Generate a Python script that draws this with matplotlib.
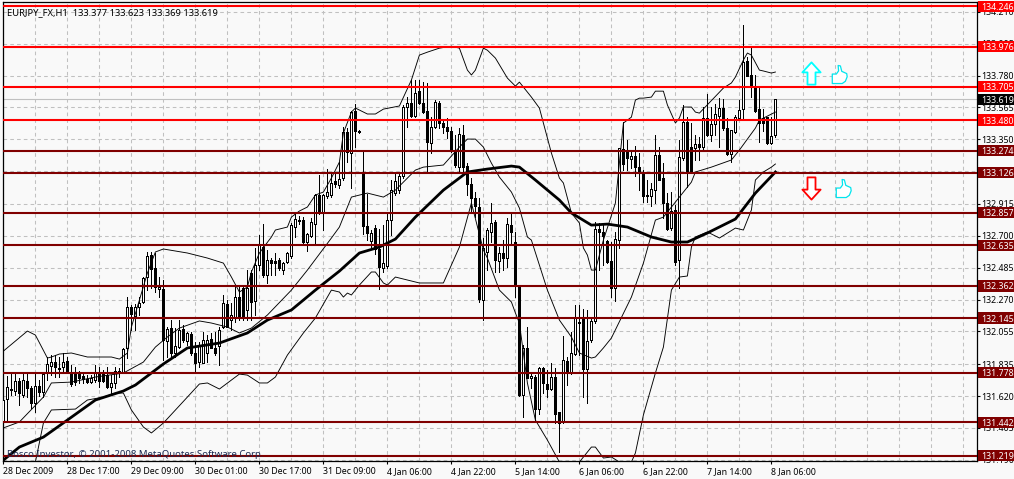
import matplotlib
matplotlib.use("Agg")
import matplotlib.pyplot as plt
import numpy as np
from matplotlib.path import Path
from matplotlib.patches import Rectangle

plt.rcParams['font.family'] = ['Noto Sans', 'DejaVu Sans']

opens = [131.451,131.600,131.667,131.653,131.721,131.627,131.721,131.674,131.573,131.688,
         131.647,131.775,131.822,131.849,131.802,131.815,131.856,131.775,131.775,131.768,
         131.755,131.735,131.714,131.728,131.782,131.775,131.761,131.681,131.708,131.775,
         131.782,131.944,132.220,132.160,132.220,132.254,132.422,132.570,132.483,132.341,
         132.341,131.990,132.078,131.910,131.950,132.072,131.990,132.038,131.910,131.849,
         131.842,131.910,132.004,131.944,131.957,132.085,132.240,132.132,132.146,132.287,
         132.348,132.200,132.449,132.260,132.503,132.624,132.436,132.537,132.530,132.537,
         132.469,132.523,132.564,132.759,132.800,132.806,132.658,132.698,132.779,132.975,
         132.853,132.968,132.975,133.069,133.042,133.090,133.399,133.258,133.541,133.406,
         133.123,132.766,132.665,132.752,132.611,132.483,132.496,132.806,132.988,133.008,
         133.103,133.568,133.595,133.507,133.675,133.595,133.541,133.325,133.433,133.595,
         133.460,133.433,133.406,133.278,133.163,133.379,133.170,133.049,132.955,132.894,
         132.267,132.591,132.726,132.793,132.530,132.584,132.550,132.772,132.658,132.355,
         131.627,131.944,131.741,131.748,131.532,131.808,131.701,131.667,131.748,131.512,
         131.445,131.856,131.775,131.903,132.112,132.146,131.802,131.997,132.126,132.746,
         132.726,132.665,132.530,132.348,132.671,133.285,133.271,133.217,133.238,133.163,
         133.130,132.975,132.968,133.008,133.244,133.089,132.921,132.752,132.874,132.537,
         133.224,133.467,133.298,133.291,133.318,133.298,133.494,133.379,133.453,133.507,
         133.561,133.426,133.251,133.399,133.494,133.555,133.878,133.784,133.703,133.554,
         133.494,133.500,133.325,133.377]
highs = [131.775,131.755,131.775,131.775,131.741,131.775,131.768,131.688,131.768,131.728,
         131.775,131.883,131.896,131.896,131.883,131.910,131.883,131.829,131.815,131.788,
         131.775,131.761,131.761,131.829,131.815,131.795,131.815,131.761,131.815,131.808,
         131.944,132.287,132.233,132.240,132.287,132.422,132.591,132.591,132.584,132.422,
         132.402,132.085,132.132,132.078,132.132,132.099,132.051,132.051,131.984,131.984,
         132.051,132.031,132.045,132.051,132.085,132.301,132.267,132.247,132.368,132.368,
         132.368,132.469,132.469,132.618,132.705,132.779,132.604,132.550,132.584,132.550,
         132.523,132.591,132.786,132.847,132.833,132.826,132.719,132.820,132.982,133.110,
         132.982,133.150,133.123,133.123,133.197,133.433,133.426,133.541,133.588,133.413,
         133.265,132.982,132.739,132.772,132.746,132.772,132.854,133.076,133.130,133.130,
         133.582,133.635,133.750,133.750,133.750,133.736,133.730,133.500,133.615,133.608,
         133.480,133.494,133.433,133.379,133.426,133.446,133.190,133.089,132.995,132.955,
         132.685,132.752,132.921,132.806,132.624,132.671,132.820,132.854,132.726,132.362,
         131.964,132.085,131.782,131.761,131.815,131.815,131.795,131.842,131.808,131.512,
         132.025,131.883,132.051,132.233,132.233,132.207,132.200,132.146,132.793,132.786,
         132.786,132.671,132.658,132.726,133.291,133.467,133.345,133.271,133.305,133.258,
         133.143,133.076,133.056,133.379,133.298,133.190,132.988,132.995,132.908,133.345,
         133.582,133.500,133.460,133.379,133.365,133.568,133.655,133.568,133.588,133.628,
         133.622,133.494,133.413,133.514,133.615,134.120,133.905,133.965,133.784,133.696,
         133.554,133.500,133.500,133.623]
lows = [131.371,131.458,131.627,131.627,131.559,131.613,131.613,131.539,131.512,131.620,
        131.613,131.728,131.761,131.748,131.748,131.782,131.775,131.688,131.694,131.708,
        131.708,131.708,131.708,131.714,131.681,131.714,131.674,131.627,131.674,131.748,
        131.775,131.876,132.065,132.065,132.166,132.247,132.334,132.348,132.321,132.287,
        131.863,131.883,131.883,131.883,131.944,131.984,131.964,131.896,131.782,131.815,
        131.842,131.849,131.944,131.896,131.829,132.078,132.085,132.065,132.119,132.132,
        132.132,132.132,132.132,132.166,132.469,132.422,132.382,132.436,132.436,132.469,
        132.442,132.516,132.550,132.692,132.779,132.651,132.597,132.692,132.651,132.847,
        132.739,132.955,132.961,133.029,133.022,133.076,133.197,133.022,133.298,133.393,
        132.712,132.671,132.624,132.577,132.341,132.456,132.483,132.705,132.975,132.988,
        133.089,133.433,133.500,133.500,133.588,133.527,133.130,133.258,133.426,133.426,
        133.393,133.359,133.265,133.163,133.130,133.130,132.975,132.854,132.826,132.254,
        132.132,132.469,132.658,132.456,132.456,132.469,132.490,132.638,132.287,131.620,
        131.478,131.741,131.674,131.445,131.499,131.640,131.613,131.660,131.438,131.242,
        131.438,131.694,131.768,131.896,131.896,131.613,131.573,131.984,132.112,132.469,
        132.503,132.516,132.287,132.260,132.618,133.143,133.143,133.157,133.103,133.008,
        132.928,132.928,132.901,132.921,133.076,132.820,132.739,132.739,132.503,132.348,
        133.211,133.029,133.123,133.211,133.211,133.285,133.372,133.339,133.379,133.298,
        133.413,133.244,133.197,133.393,133.487,133.480,133.777,133.635,133.534,133.332,
        133.406,133.318,133.318,133.369]
closes = [131.593,131.681,131.660,131.721,131.640,131.728,131.674,131.573,131.688,131.647,
          131.768,131.836,131.849,131.815,131.808,131.849,131.775,131.701,131.714,131.741,
          131.735,131.714,131.741,131.775,131.721,131.721,131.681,131.708,131.788,131.788,
          131.937,132.220,132.173,132.220,132.247,132.415,132.564,132.476,132.355,132.355,
          131.997,132.072,131.910,131.957,132.065,131.997,132.045,131.910,131.842,131.957,
          131.997,131.997,131.944,131.910,132.065,132.247,132.085,132.166,132.287,132.146,
          132.146,132.348,132.254,132.503,132.638,132.436,132.537,132.516,132.516,132.483,
          132.516,132.584,132.772,132.813,132.806,132.658,132.712,132.793,132.975,132.860,
          132.975,132.995,133.056,133.049,133.083,133.399,133.265,133.534,133.406,133.399,
          132.766,132.719,132.719,132.611,132.490,132.516,132.806,133.008,133.069,133.103,
          133.568,133.595,133.507,133.662,133.595,133.534,133.332,133.433,133.601,133.460,
          133.433,133.406,133.278,133.177,133.386,133.163,133.049,132.955,132.901,132.274,
          132.618,132.739,132.786,132.537,132.584,132.550,132.779,132.726,132.362,131.627,
          131.944,131.741,131.755,131.532,131.808,131.708,131.667,131.748,131.499,131.438,
          131.863,131.775,131.910,132.146,132.119,131.802,131.990,132.126,132.746,132.726,
          132.698,132.523,132.348,132.678,133.291,133.184,133.224,133.238,133.163,133.123,
          132.968,132.968,133.015,133.244,133.076,132.921,132.746,132.867,132.523,133.231,
          133.467,133.123,133.123,133.318,133.298,133.494,133.379,133.453,133.521,133.561,
          133.426,133.251,133.413,133.500,133.548,133.871,133.777,133.703,133.541,133.460,
          133.460,133.325,133.372,133.619]

ma_idx = [0,4,10,16,23,30,33,40,46,54,61,66,72,78,84,89,94,98,103,110,116,121,127,129,133,
          139,142,147,151,156,162,167,171,176,183,188,193]
ma_val = [131.188,131.276,131.343,131.458,131.593,131.654,131.694,131.836,131.944,131.977,
          132.045,132.132,132.200,132.334,132.462,132.584,132.624,132.678,132.826,133.008,
          133.130,133.150,133.170,133.163,133.076,132.941,132.854,132.772,132.779,132.759,
          132.692,132.658,132.658,132.719,132.813,132.988,133.130]

upper_idx = [0,6,8,11,12,14,17,21,27,29,31,32,36,38,40,46,51,55,57,59,61,62,64,67,68,71,72,
             74,76,78,80,82,84,85,87,88,91,93,95,99,102,104,106,109,112,114,116,117,118,120,
             121,123,126,128,129,132,134,135,137,139,140,142,144,145,146,147,148,150,153,155,
             157,158,159,160,162,163,165,166,168,169,170,172,173,174,180,182,183,185,186,187,
             189,190,192,193]
upper_val = [131.923,132.058,132.031,131.876,131.883,131.903,131.910,131.883,131.883,131.869,
             131.910,132.085,132.449,132.591,132.611,132.584,132.550,132.516,132.422,132.321,
             132.355,132.456,132.584,132.692,132.739,132.759,132.826,132.867,132.894,132.975,
             132.995,133.089,133.197,133.393,133.534,133.561,133.521,133.521,133.554,133.575,
             133.750,133.918,133.938,133.965,133.978,133.965,133.817,133.784,133.817,133.965,
             133.951,133.898,133.763,133.709,133.736,133.635,133.561,133.460,133.258,133.089,
             133.056,132.854,132.786,132.618,132.570,132.469,132.469,132.671,132.921,133.460,
             133.500,133.615,133.628,133.628,133.635,133.675,133.675,133.582,133.460,133.494,
             133.568,133.568,133.534,133.527,133.696,133.730,133.770,133.885,133.932,133.918,
             133.817,133.811,133.797,133.804]

mid_idx = [0,4,10,12,17,23,30,35,38,41,44,49,52,56,59,62,66,72,76,82,84,87,91,95,98,103,105,
           110,114,116,118,120,122,124,127,129,131,132,136,139,142,144,147,148,150,152,157,
           160,163,165,169,172,173,177,182,184,188,189,193]
mid_val = [131.405,131.445,131.613,131.708,131.714,131.748,131.775,131.849,131.950,132.018,
           132.078,132.126,132.112,132.085,132.045,132.078,132.166,132.334,132.469,132.685,
           132.759,132.961,132.988,132.961,133.008,133.143,133.163,133.177,133.298,133.352,
           133.352,133.298,133.190,133.096,132.995,132.887,132.692,132.671,132.334,132.132,
           132.018,131.910,131.876,131.883,131.944,132.011,132.287,132.516,132.806,132.826,
           132.961,133.062,133.130,133.163,133.211,133.278,133.426,133.480,133.534]

lower_idx = [8,10,12,18,21,25,28,30,32,35,37,40,46,49,51,54,59,61,64,66,68,71,75,78,82,84,85,
             86,87,89,92,93,95,96,98,104,110,114,117,120,121,124,127,128,129,131,133,136,139,
             144,147,148,150,152,154,157,158,160,163,165,167,169,171,172,173,176,179,183,185,
             187,188,190,192,193]
lower_val = [131.175,131.438,131.526,131.532,131.593,131.613,131.640,131.640,131.526,131.411,
             131.371,131.438,131.613,131.701,131.708,131.667,131.768,131.761,131.708,131.708,
             131.748,131.896,132.045,132.146,132.334,132.321,132.287,132.314,132.301,132.368,
             132.456,132.456,132.382,132.368,132.422,132.382,132.382,132.624,132.921,132.604,
             132.550,132.334,132.254,132.180,132.112,131.708,131.458,131.323,131.175,131.175,
             131.276,131.276,131.202,131.209,131.175,131.175,131.236,131.492,131.775,131.950,
             132.334,132.422,132.429,132.624,132.692,132.726,132.685,132.752,132.739,132.874,
             133.076,133.130,133.163,133.184]

red_levels = [134.246, 133.976, 133.705, 133.480]
dark_levels = [133.274, 133.126, 132.857, 132.635, 132.362, 132.145, 131.778, 131.442, 131.219]
last_price = 133.619

y_ticks = [134.210, 133.995, 133.780, 133.565, 133.350, 133.135, 132.915, 132.700,
           132.485, 132.270, 132.055, 131.835, 131.620, 131.405, 131.190]
x_tick_idx = [0, 16, 32, 48, 64, 80, 96, 112, 128, 144, 160, 176, 192]
x_labels = ["28 Dec 2009", "28 Dec 17:00", "29 Dec 09:00", "30 Dec 01:00", "30 Dec 17:00",
            "31 Dec 09:00", "4 Jan 06:00", "4 Jan 22:00", "5 Jan 14:00", "6 Jan 06:00",
            "6 Jan 22:00", "7 Jan 14:00", "8 Jan 06:00"]

BG = "#f9f9f9"
FS = 6.35

fig = plt.figure(figsize=(10.14, 4.79), dpi=100, facecolor=BG)
ax = fig.add_axes([2.5/1014, 18/479, 974/1014, 459/479], facecolor=BG)
ax.set_xlim(-0.225, 243.275)
ax.set_ylim(131.182, 134.276)

# grid
ax.set_xticks(np.arange(8, 244, 8), minor=True)
ax.set_xticks(x_tick_idx)
ax.set_xticklabels(x_labels, fontsize=FS, ha="left")
ax.yaxis.tick_right()
ax.set_yticks(y_ticks)
ax.set_yticklabels(["%.3f" % v for v in y_ticks], fontsize=FS)
ax.tick_params(axis="x", which="major", length=2.5, width=0.8, pad=2)
ax.tick_params(axis="x", which="minor", length=0)
ax.tick_params(axis="y", length=2, width=0.8, pad=1.5)
ax.grid(True, which="both", color="#c0c0c0", linestyle=(0, (3.5, 3)), linewidth=0.75)
ax.set_axisbelow(True)
for s in ax.spines.values():
    s.set_linewidth(0.9)

# candles
o = np.array(opens)
h = np.array(highs)
l = np.array(lows)
c = np.array(closes)
x = np.arange(len(o))
up = c >= o
ax.vlines(x, l, h, color="black", linewidth=0.72, zorder=2, antialiased=False)
ax.bar(x[up], (c - o)[up], bottom=o[up], width=0.5, facecolor="white", edgecolor="black",
       linewidth=0.72, zorder=3, antialiased=False)
ax.bar(x[~up], (o - c)[~up], bottom=c[~up], width=0.5, facecolor="black", edgecolor="black",
       linewidth=0.72, zorder=3, antialiased=False)

# bollinger bands and moving average
ax.plot(upper_idx, upper_val, color="black", linewidth=0.65, zorder=4)
ax.plot(mid_idx, mid_val, color="black", linewidth=0.65, zorder=4)
ax.plot(lower_idx, lower_val, color="black", linewidth=0.65, zorder=4)
ax.plot(ma_idx, ma_val, color="black", linewidth=2.0, zorder=4)

# bid line and levels
ax.axhline(last_price, color="#c0c0c0", linewidth=0.8, zorder=1.5)
for v in red_levels:
    ax.axhline(v, color="#ff0000", linewidth=1.5, zorder=5)
for v in dark_levels:
    ax.axhline(v, color="#800000", linewidth=1.5, zorder=5)


def price_tag(value, bg):
    trans = ax.get_yaxis_transform()
    ax.add_patch(Rectangle((1.0015, value - 0.038), 0.037, 0.076, transform=trans, facecolor=bg,
                           edgecolor="none", clip_on=False, zorder=9))
    ax.text(1.0052, value, "%.3f" % value, transform=trans, va="center_baseline", ha="left",
            fontsize=FS, color="white", clip_on=False, zorder=10)


for v in red_levels:
    price_tag(v, "#ff0000")
for v in dark_levels:
    price_tag(v, "#800000")
price_tag(last_price, "black")

# title and copyright
ax.text(0.0045, 134.205, "EURJPY_FX,H1  133.377 133.623 133.369 133.619", fontsize=6.75,
        color="black", va="center", transform=ax.get_yaxis_transform(), zorder=6)
ax.text(0.0045, 131.226, "Bosco Investor, \u00a9 2001-2008 MetaQuotes Software Corp.", fontsize=6.9,
        color="#1c2a52", va="center", transform=ax.get_yaxis_transform(), zorder=6)

# arrows and thumbs
arrow_up = Path([(0, 1), (0.82, 0.1), (0.36, 0.1), (0.36, -1), (-0.36, -1), (-0.36, 0.1),
                 (-0.82, 0.1), (0, 1)], closed=True)
arrow_down = Path([(0, -1), (0.82, -0.1), (0.36, -0.1), (0.36, 1), (-0.36, 1), (-0.36, -0.1),
                   (-0.82, -0.1), (0, -1)], closed=True)
thumb = Path([(-0.8, -1), (-0.8, 0.05), (-0.35, 0.05), (-0.1, 0.4), (-0.15, 1), (0.1, 0.95),
              (0.25, 0.35), (0.8, 0.1), (0.85, -0.25), (0.65, -0.75), (0.3, -1), (-0.8, -1)],
             closed=True)
ax.plot([201.8], [133.80], marker=arrow_up, markersize=16, mfc="white", mec="#00ffff", mew=1.3, zorder=6)
ax.plot([201.8], [133.02], marker=arrow_down, markersize=16, mfc="white", mec="#ff0000", mew=1.3, zorder=6)
ax.plot([208.8], [133.79], marker=thumb, markersize=13, mfc="white", mec="#00e5ee", mew=0.9, zorder=6)
ax.plot([210.0], [133.02], marker=thumb, markersize=13, mfc="white", mec="#00e5ee", mew=0.9, zorder=6)

fig.savefig("out.png", dpi=100, facecolor=BG)
